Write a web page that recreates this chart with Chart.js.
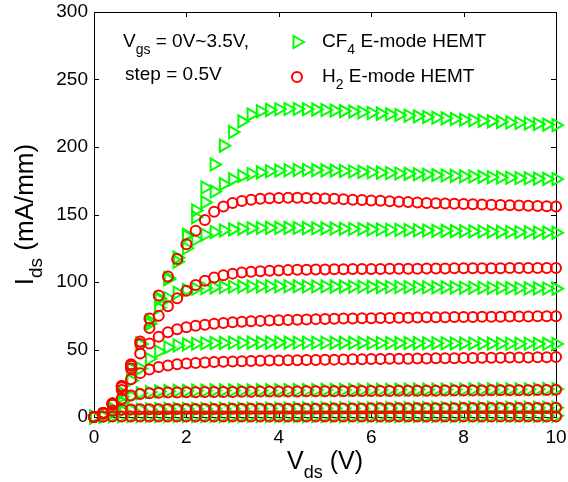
<!DOCTYPE html>
<html><head><meta charset="utf-8">
<script src="https://cdn.jsdelivr.net/npm/chart.js@4.4.0/dist/chart.umd.min.js"></script>
<style>html,body{margin:0;padding:0;background:#fff;}canvas{display:block;}</style>
</head><body>
<canvas id="c" width="568" height="482"></canvas>
<script>
// Vds sweep (V)
const vds = [0,0.2,0.4,0.6,0.8,1.0,1.2,1.4,1.6,1.8,2.0,2.2,2.4,2.6,2.8,3.0,3.2,3.4,3.6,3.8,4.0,4.2,4.4,4.6,4.8,5.0,5.2,5.4,5.6,5.8,6.0,6.2,6.4,6.6,6.8,7.0,7.2,7.4,7.6,7.8,8.0,8.2,8.4,8.6,8.8,9.0,9.2,9.4,9.6,9.8,10.0];
const xTicks = [0,2,4,6,8,10];
const yTicks = [0,50,100,150,200,250,300];

// CF4 E-mode HEMT, Ids (mA/mm), Vgs = 0 ... 3.5 V
const cf4_vgs00 = [0,0.3,0.5,0.6,0.7,0.7,0.7,0.8,0.8,0.8,0.8,0.8,0.8,0.8,0.8,0.8,0.8,0.8,0.8,0.8,0.8,0.8,0.8,0.8,0.8,0.8,0.8,0.8,0.8,0.8,0.8,0.8,0.8,0.8,0.8,0.8,0.8,0.8,0.8,0.8,0.9,0.9,0.9,0.9,0.9,0.9,0.9,0.9,0.9,0.9,0.9];
const cf4_vgs05 = [0,1,3,4.6,5.3,5.6,5.8,5.9,6,6,6.1,6.1,6.1,6.2,6.2,6.2,6.2,6.3,6.3,6.3,6.3,6.3,6.4,6.4,6.4,6.4,6.4,6.5,6.5,6.5,6.5,6.5,6.6,6.6,6.6,6.6,6.6,6.7,6.7,6.7,6.7,6.7,6.8,6.8,6.8,6.8,6.8,6.9,6.9,6.9,6.9];
const cf4_vgs10 = [0,1,5,11,15.5,17.6,18.5,19,19.2,19.4,19.5,19.6,19.6,19.7,19.7,19.8,19.8,19.8,19.9,19.9,19.9,20,20,20,20,20.1,20.1,20.1,20.1,20.2,20.2,20.2,20.2,20.3,20.3,20.3,20.3,20.4,20.4,20.4,20.4,20.5,20.5,20.5,20.5,20.6,20.6,20.6,20.6,20.7,20.7];
const cf4_vgs15 = [0,1,5,15,27,36,43,48.5,51.5,53,53.8,54.3,54.6,54.8,54.9,55,55,55.1,55.1,55.1,55.1,55.1,55,55,55,55,54.9,54.9,54.9,54.9,54.8,54.8,54.8,54.7,54.7,54.7,54.6,54.6,54.6,54.5,54.5,54.5,54.4,54.4,54.4,54.3,54.3,54.3,54.2,54.2,54.1];
const cf4_vgs20 = [0,1,6,18,36,54,69,81,88,92,94,95,95.6,96,96.3,96.5,96.6,96.7,96.7,96.8,96.8,96.8,96.8,96.7,96.7,96.7,96.6,96.6,96.5,96.5,96.4,96.4,96.3,96.3,96.2,96.1,96.1,96,96,95.9,95.8,95.8,95.7,95.6,95.6,95.5,95.4,95.3,95.3,95.2,95.1];
const cf4_vgs25 = [0,1,6,18,36,54,71,87,102,115,125,131.5,135,137,138.2,139,139.5,139.8,140,140.1,140.1,140.1,140,139.9,139.8,139.7,139.6,139.5,139.3,139.2,139,138.9,138.7,138.6,138.4,138.3,138.1,138,137.9,137.7,137.6,137.5,137.4,137.3,137.1,137,136.9,136.8,136.7,136.6,136.5];
const cf4_vgs30 = [0,1,6,18,36,54,71,88,103,118,134,148,159,167,172.5,176,178.5,180,181.2,182,182.5,182.8,183,183,182.9,182.7,182.5,182.2,181.9,181.6,181.3,181,180.7,180.4,180.1,179.8,179.5,179.2,178.9,178.6,178.3,178.1,177.9,177.6,177.4,177.2,177,176.8,176.6,176.4,176.2];
const cf4_vgs35 = [0,1,6,18,36,54,71,88,103,118,135,153,170,187,201,211,219,224,226.5,227.5,228,228.2,228.2,228,227.7,227.4,227,226.6,226.2,225.7,225.2,224.7,224.2,223.7,223.2,222.7,222.2,221.7,221.2,220.7,220.2,219.8,219.4,219,218.6,218.2,217.8,217.4,217,216.6,216.2];

// H2 E-mode HEMT, Ids (mA/mm)
const h2_vgs00 = [0,0.2,0.3,0.3,0.3,0.3,0.3,0.3,0.3,0.3,0.3,0.3,0.3,0.3,0.3,0.3,0.3,0.3,0.3,0.3,0.3,0.3,0.3,0.3,0.3,0.3,0.3,0.3,0.3,0.3,0.3,0.3,0.4,0.4,0.4,0.4,0.4,0.4,0.4,0.4,0.4,0.4,0.4,0.4,0.4,0.4,0.4,0.4,0.4,0.4,0.4];
const h2_vgs05 = [0,2.5,4.6,5.3,5.6,5.7,5.8,5.8,5.9,5.9,5.9,6,6,6,6,6.1,6.1,6.1,6.1,6.1,6.2,6.2,6.2,6.2,6.2,6.3,6.3,6.3,6.3,6.3,6.4,6.4,6.4,6.4,6.4,6.5,6.5,6.5,6.5,6.5,6.6,6.6,6.6,6.6,6.6,6.7,6.7,6.7,6.7,6.7,6.8];
const h2_vgs10 = [0,3,9,13.5,16,17,17.6,17.9,18.1,18.2,18.3,18.4,18.5,18.5,18.6,18.6,18.7,18.7,18.8,18.8,18.9,18.9,18.9,19,19,19.1,19.1,19.1,19.2,19.2,19.3,19.3,19.3,19.4,19.4,19.5,19.5,19.5,19.6,19.6,19.7,19.7,19.7,19.8,19.8,19.9,19.9,19.9,20,20,20.1];
const h2_vgs15 = [0,3,10,20,28,32.5,35.2,37,38.2,39,39.6,40,40.4,40.7,40.9,41.1,41.3,41.5,41.6,41.8,41.9,42,42.1,42.2,42.3,42.4,42.5,42.6,42.7,42.8,42.9,43,43.1,43.2,43.2,43.3,43.4,43.5,43.5,43.6,43.7,43.7,43.8,43.9,43.9,44,44.1,44.1,44.2,44.3,44.4];
const h2_vgs20 = [0,3,10,22,36,47,54.5,59.5,62.8,65,66.5,67.6,68.4,69.1,69.7,70.2,70.6,70.9,71.2,71.5,71.7,71.9,72.1,72.3,72.5,72.6,72.8,72.9,73,73.1,73.2,73.3,73.4,73.5,73.6,73.7,73.8,73.8,73.9,74,74,74.1,74.2,74.2,74.3,74.4,74.4,74.5,74.6,74.6,74.7];
const h2_vgs25 = [0,3,10,23,38,54,66,75,82,88,93.5,97.8,101,103.3,105,106.2,107,107.6,108,108.3,108.6,108.8,109,109.1,109.2,109.3,109.4,109.5,109.6,109.6,109.7,109.7,109.8,109.8,109.9,109.9,110,110,110,110.1,110.1,110.1,110.2,110.2,110.2,110.3,110.3,110.3,110.4,110.4,110.4];
const h2_vgs30 = [0,3,10,23,39,56,73,90,104,117,128,138,146,152,156,158.5,160,161,161.7,162.1,162.3,162.4,162.4,162.3,162.1,161.9,161.6,161.3,161,160.7,160.4,160.1,159.8,159.5,159.2,158.9,158.6,158.4,158.2,158,157.8,157.6,157.4,157.2,157,156.8,156.6,156.4,156.3,156.1,156];

const cf4Series = [cf4_vgs00,cf4_vgs05,cf4_vgs10,cf4_vgs15,cf4_vgs20,cf4_vgs25,cf4_vgs30,cf4_vgs35];
const h2Series = [h2_vgs00,h2_vgs05,h2_vgs10,h2_vgs15,h2_vgs20,h2_vgs25,h2_vgs30];

const GREEN = '#00ff00', RED = '#ff0000';
const FONT = "'Liberation Sans', Arial, sans-serif";
Chart.defaults.font.family = FONT;
Chart.defaults.color = '#000';

const toPts = arr => vds.map((v,i)=>({x:v, y:arr[i]}));
const datasets = [];
h2Series.forEach((s,k)=>datasets.push({label:'H2 '+k, data:toPts(s), showLine:false,
  pointStyle:'circle', pointRadius:5, borderColor:RED, backgroundColor:'rgba(0,0,0,0)',
  pointBorderWidth:2, clip:false, order:1}));
cf4Series.forEach((s,k)=>datasets.push({label:'CF4 '+k, data:toPts(s), showLine:false,
  pointStyle:'triangle', pointRotation:90, pointRadius:7, borderColor:GREEN, backgroundColor:'rgba(0,0,0,0)',
  pointBorderWidth:2, clip:false, order:2}));

function drawParts(ctx, parts, x, y, align){
  let w = 0;
  parts.forEach(p=>{ctx.font = p[1]+'px '+FONT; w += ctx.measureText(p[0]).width;});
  let cx = align==='center' ? x - w/2 : x;
  ctx.textAlign='left'; ctx.textBaseline='alphabetic';
  parts.forEach(p=>{ctx.font = p[1]+'px '+FONT; ctx.fillText(p[0], cx, y + p[2]); cx += ctx.measureText(p[0]).width;});
}

const deco = {
  id:'deco',
  beforeDatasetsDraw(chart){
    const {ctx, chartArea:a, scales:{x,y}} = chart;
    ctx.save();
    ctx.strokeStyle='#000'; ctx.lineWidth=1;
    ctx.strokeRect(Math.round(a.left)+0.5, Math.round(a.top)+0.5, Math.round(a.right-a.left), Math.round(a.bottom-a.top));
    ctx.beginPath();
    xTicks.forEach(v=>{const p=Math.round(x.getPixelForValue(v))+0.5;
      ctx.moveTo(p,a.bottom); ctx.lineTo(p,a.bottom-5); ctx.moveTo(p,a.top); ctx.lineTo(p,a.top+5);});
    yTicks.forEach(v=>{const p=Math.round(y.getPixelForValue(v))+0.5;
      ctx.moveTo(a.left,p); ctx.lineTo(a.left+5,p); ctx.moveTo(a.right,p); ctx.lineTo(a.right-5,p);});
    ctx.stroke();
    ctx.restore();
  },
  afterDraw(chart){
    const {ctx, chartArea:a} = chart;
    ctx.save();
    ctx.fillStyle='#000';
    drawParts(ctx, [['V',19,0],['gs',14,7],[' = 0V~3.5V,',19,0]], 123, 47);
    drawParts(ctx, [['step = 0.5V',19,0]], 125, 80);
    ctx.strokeStyle=GREEN; ctx.lineWidth=2;
    const tx=297, ty=42, r=7;
    ctx.beginPath(); ctx.moveTo(tx+r,ty); ctx.lineTo(tx-r/2,ty-r*0.866); ctx.lineTo(tx-r/2,ty+r*0.866); ctx.closePath(); ctx.stroke();
    ctx.strokeStyle=RED;
    ctx.beginPath(); ctx.arc(297,77,5,0,Math.PI*2); ctx.stroke();
    drawParts(ctx, [['CF',19,0],['4',14,7],[' E-mode HEMT',19,0]], 322, 47);
    drawParts(ctx, [['H',19,0],['2',14,7],[' E-mode HEMT',19,0]], 322, 82);
    drawParts(ctx, [['V',25,0],['ds',18,9],[' (V)',25,0]], (a.left+a.right)/2, 469, 'center');
    ctx.translate(33, (a.top+a.bottom)/2);
    ctx.rotate(-Math.PI/2);
    drawParts(ctx, [['I',26,0],['ds',19,9],[' (mA/mm)',26,0]], 0, 0, 'center');
    ctx.restore();
  }
};

new Chart(document.getElementById('c'), {
  type:'scatter',
  data:{datasets},
  options:{
    responsive:false, animation:false, events:[],
    layout:{padding:{left:0, top:12, right:12, bottom:0}},
    plugins:{legend:{display:false}, tooltip:{enabled:false}},
    scales:{
      x:{type:'linear', min:0, max:10,
        afterBuildTicks:s=>{s.ticks = xTicks.map(v=>({value:v}));},
        afterFit:s=>{s.height = 65; s.paddingLeft = 0; s.paddingRight = 0;},
        grid:{display:false, drawTicks:false}, border:{display:false},
        ticks:{font:{size:19}, color:'#000', padding:9, maxRotation:0}},
      y:{type:'linear', min:0, max:300,
        afterBuildTicks:s=>{s.ticks = yTicks.map(v=>({value:v}));},
        afterFit:s=>{s.width = 94; s.paddingTop = 0; s.paddingBottom = 0;},
        grid:{display:false, drawTicks:false}, border:{display:false},
        ticks:{font:{size:19}, color:'#000', padding:6}}
    }
  },
  plugins:[deco]
});
</script>
</body></html>
